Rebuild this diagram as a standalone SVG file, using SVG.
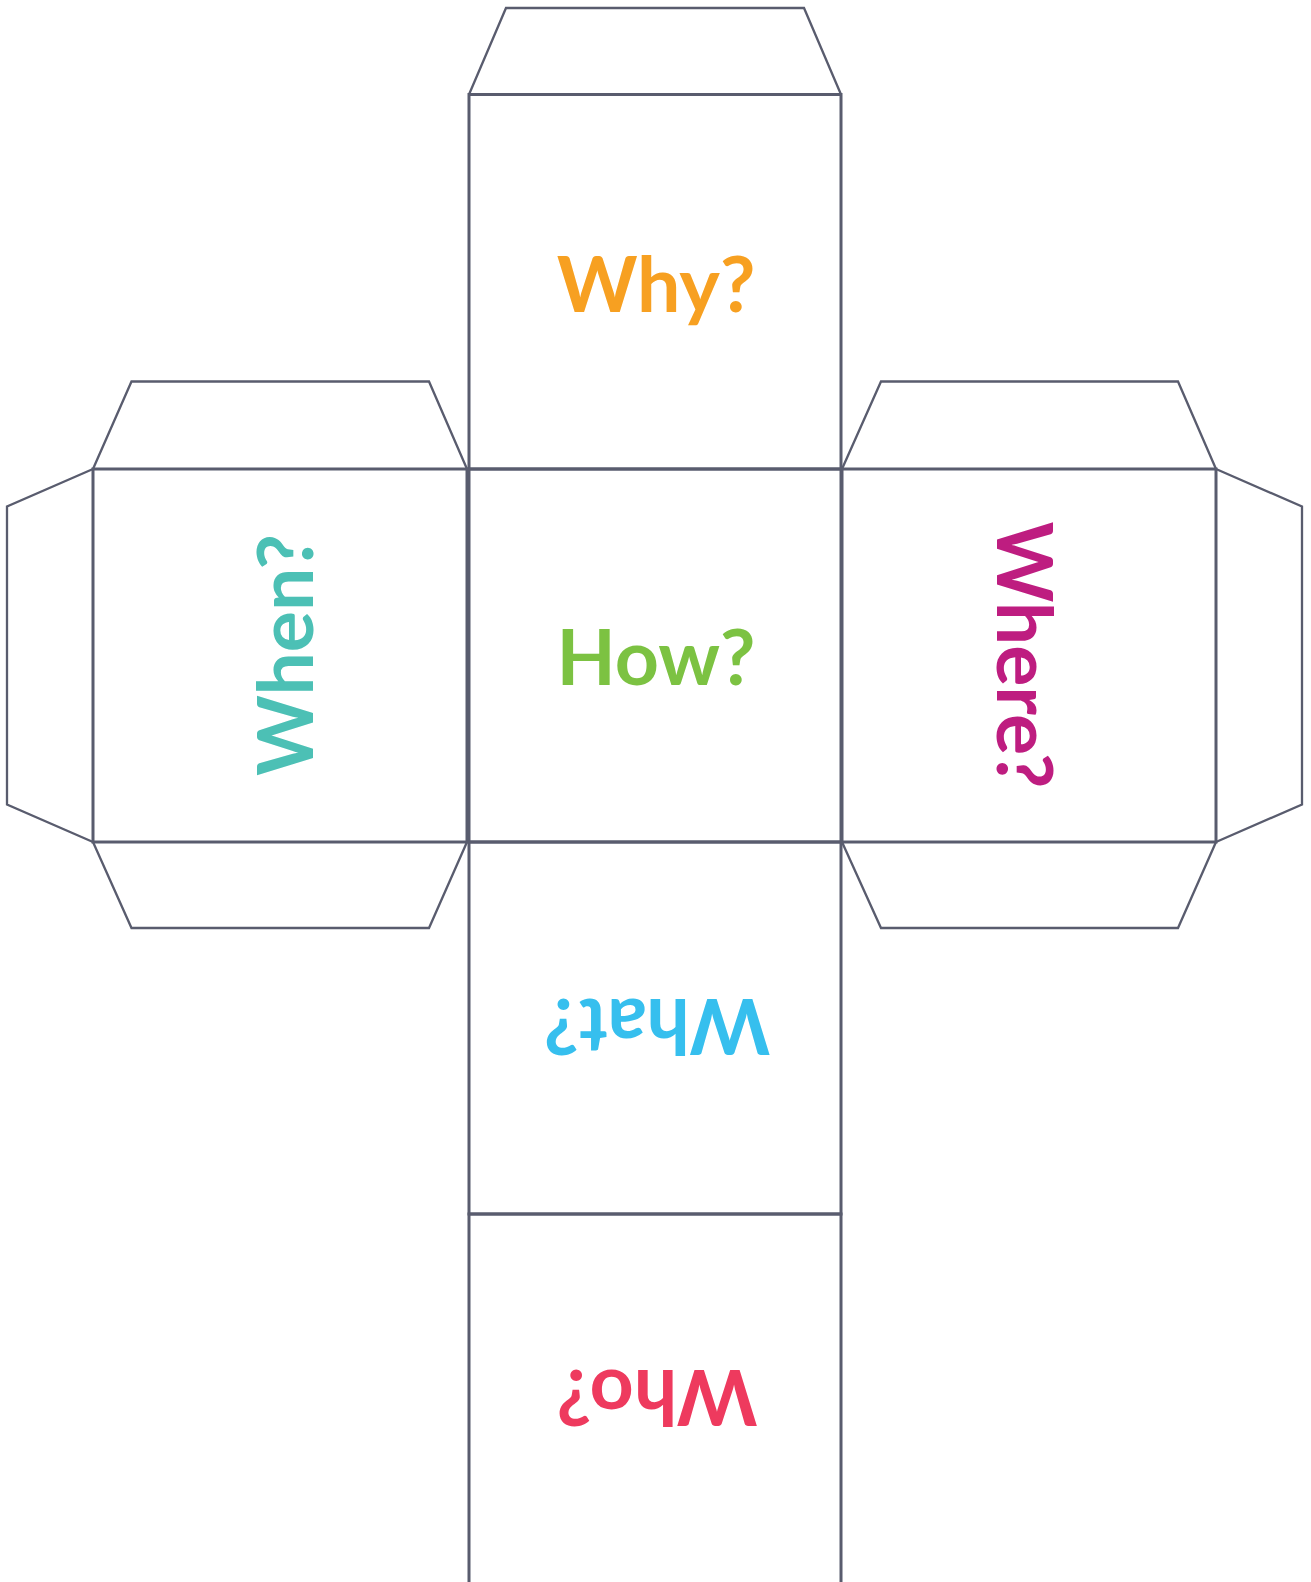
<svg xmlns="http://www.w3.org/2000/svg" width="1311" height="1582" viewBox="0 0 1311 1582">
<style>
.face{fill:none;stroke:#595c6e;stroke-width:3}
.flap{fill:none;stroke:#595c6e;stroke-width:2.3;stroke-linejoin:miter}
.lbl{font-family:Lato,"Noto Sans",sans-serif;font-weight:700;font-size:77px;text-anchor:middle}
</style>
<rect width="1311" height="1582" fill="#ffffff"/>
<g id="flaps">
<polyline class="flap" points="469,94.5 506,8 804,8 841,94.5"/>
<polyline class="flap" points="93,469 131.5,381.5 429,381.5 467,469"/>
<polyline class="flap" points="93,469 7,506.5 7,804.5 93,842"/>
<polyline class="flap" points="93,842 131.5,928 429,928 467,842"/>
<polyline class="flap" points="842,469 881,381.5 1178,381.5 1216,469"/>
<polyline class="flap" points="1216,469 1302,506.5 1302,804.5 1216,842"/>
<polyline class="flap" points="842,842 881,928 1178,928 1216,842"/>
</g>
<g id="face-why">
<rect class="face" x="469" y="94.5" width="372" height="374.5"/>
<text class="lbl" x="656" y="312" fill="#f7a021">Why?</text>
</g>
<g id="face-when">
<rect class="face" x="93" y="469" width="374" height="373"/>
<text class="lbl" transform="translate(313,655) rotate(-90)" fill="#4cc0b5">When?</text>
</g>
<g id="face-how">
<rect class="face" x="469" y="469" width="372" height="373"/>
<text class="lbl" x="656" y="685" fill="#7cc242">How?</text>
</g>
<g id="face-where">
<rect class="face" x="842" y="469" width="374" height="373"/>
<text class="lbl" transform="translate(997,655) rotate(90)" fill="#be1d80">Where?</text>
</g>
<g id="face-what">
<rect class="face" x="469" y="842" width="372" height="372"/>
<text class="lbl" transform="translate(657,999) rotate(180)" fill="#36bfee">What?</text>
</g>
<g id="face-who">
<rect class="face" x="469" y="1214" width="372" height="380"/>
<text class="lbl" transform="translate(657,1370) rotate(180)" fill="#ee3a5e">Who?</text>
</g>
</svg>
